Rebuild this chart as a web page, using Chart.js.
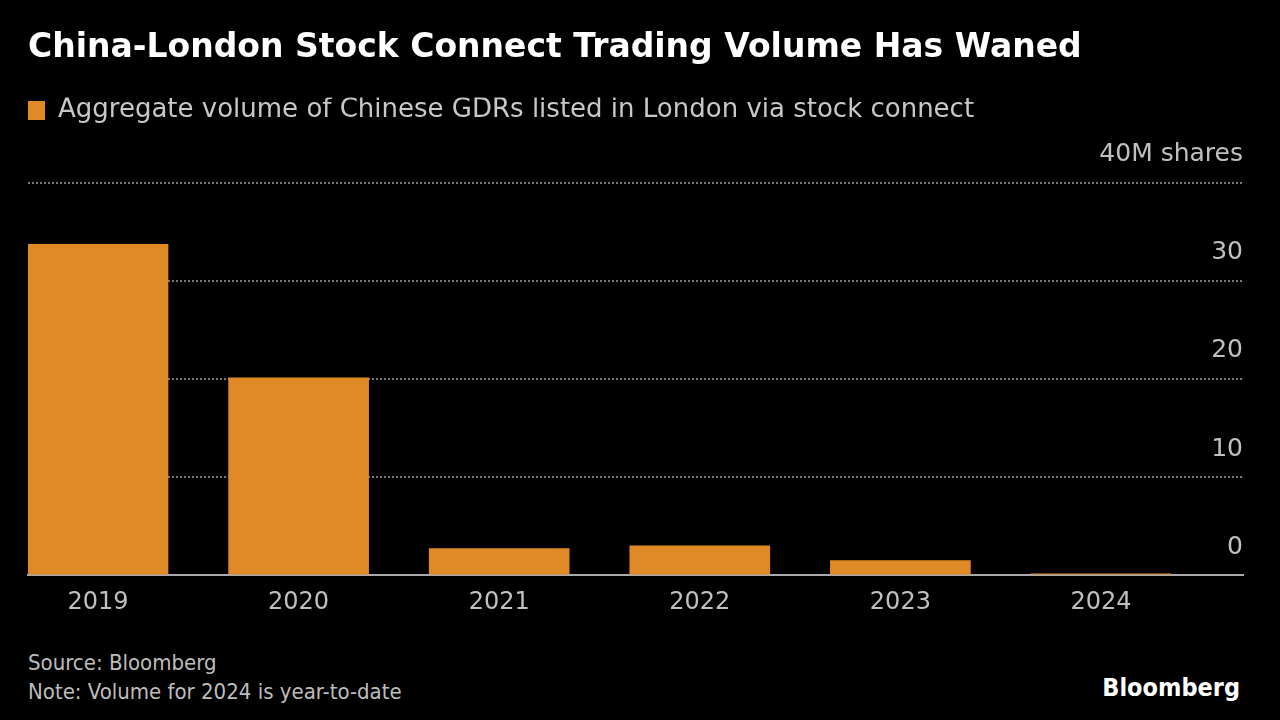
<!DOCTYPE html>
<html lang="en">
<head>
  <meta charset="UTF-8">
  <title>China-London Stock Connect Trading Volume</title>
  <script src="https://cdn.jsdelivr.net/npm/chart.js"></script>
  <style>
    body { margin:0; background:#000; width:1280px; height:720px; overflow:hidden; position:relative; font-family:'DejaVu Sans Condensed','DejaVu Sans',sans-serif; }
    .wrap { position:absolute; left:0; top:0; width:1280px; height:634px; }
    .foot { position:absolute; left:28px; top:648px; color:#bdbdbd; font-size:22px; line-height:29px; }
    .logo { position:absolute; right:40px; top:673px; color:#fff; font-weight:bold; font-size:25px; }
  </style>
</head>
<body>
  <div class="wrap"><canvas id="chart"></canvas></div>
  <div class="foot">Source: Bloomberg<br>Note: Volume for 2024 is year-to-date</div>
  <div class="logo">Bloomberg</div>
  <script>
    // values, millions of shares
    const years = [2019, 2020, 2021, 2022, 2023, 2024];
    const volume = [33.7, 20.1, 2.7, 3.0, 1.5, 0.15];
    const yTicks = [0, 10, 20, 30, 40];
    const seriesLabel = 'Aggregate volume of Chinese GDRs listed in London via stock connect';

    Chart.defaults.font.family = "'DejaVu Sans', sans-serif";

    // push the plot down below the legend
    const legendGap = {
      id: 'legendGap',
      beforeInit(chart) {
        const fit = chart.legend.fit;
        chart.legend.fit = function() {
          fit.bind(chart.legend)();
          this.height += 49;
        };
      }
    };

    new Chart(document.getElementById('chart'), {
      type: 'bar',
      data: {
        datasets: [{
          label: seriesLabel,
          data: years.map((y, i) => ({x: y, y: volume[i]})),
          backgroundColor: '#df8a27',
          borderWidth: 0,
          barThickness: 140
        }]
      },
      options: {
        responsive: true,
        maintainAspectRatio: false,
        animation: false,
        layout: { padding: { left: 28, right: 37, top: 0, bottom: 4 } },
        plugins: {
          title: {
            display: true,
            text: 'China-London Stock Connect Trading Volume Has Waned',
            align: 'start',
            color: '#fff',
            font: { size: 33, weight: 'bold' },
            padding: { top: 29, bottom: 29 }
          },
          legend: {
            align: 'start',
            labels: { color: '#c8c8c8', boxWidth: 17, boxHeight: 19, padding: 0, font: { size: 26 } }
          },
          tooltip: { enabled: false }
        },
        scales: {
          x: {
            type: 'linear',
            offset: false,
            min: 2018.651,
            max: 2024.708,
            afterBuildTicks: s => { s.ticks = years.map(v => ({ value: v })); },
            grid: { display: false, drawTicks: false, offset: false },
            border: { display: true, color: '#aaa', width: 2 },
            ticks: { color: '#c0c0c0', font: { size: 24 }, padding: 13, autoSkip: false, maxRotation: 0,
              callback: v => String(v) }
          },
          y: {
            position: 'right',
            min: 0,
            max: 40,
            afterBuildTicks: s => { s.ticks = yTicks.map(v => ({ value: v })); },
            grid: { color: '#7a7a7a', lineWidth: 2, drawTicks: false },
            border: { display: false, dash: [2, 2] },
            ticks: { mirror: true, padding: 0, labelOffset: -28, color: '#c0c0c0', font: { size: 25 },
              callback: v => v === 40 ? '40M shares' : v }
          }
        }
      },
      plugins: [legendGap]
    });
  </script>
</body>
</html>
